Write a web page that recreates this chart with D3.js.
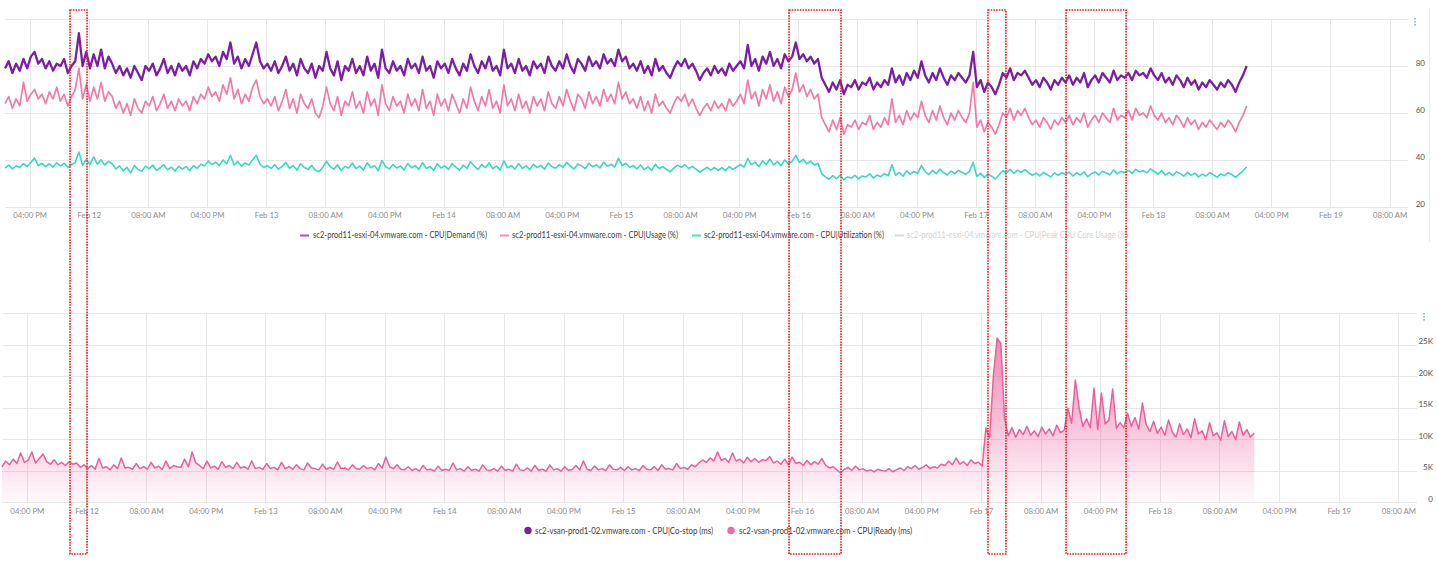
<!DOCTYPE html>
<html><head><meta charset="utf-8">
<script src="https://cdn.jsdelivr.net/npm/d3@7"></script>
<style>
body{margin:0;background:#fff;}
svg{display:block;font-family:Lato,"Open Sans",sans-serif;}
</style></head><body>
<svg id="chart" width="1437" height="563"></svg>
<script>
// ---------------- DATA ----------------
const seriesStart = new Date(2023, 1, 11, 12, 40); // Feb 11, 12:40
const stepMinutes = 30;
const domainStart = new Date(2023, 1, 11, 12, 40);
const domainEnd = new Date(2023, 1, 19, 10, 30);

// CPU|Demand (%)
const cpuDemand = [
79,82,77,81,78,83,79,84,86,81,83,79,82,78,81,80,83,77,80,82,94,80,86,79,
85,80,87,79,84,81,77,80,76,79,75,80,77,74,80,78,81,76,79,83,77,80,76,81,
78,80,76,82,79,83,81,85,82,84,80,86,83,90,81,84,79,83,80,85,90,82,79,81,
78,82,77,80,84,78,81,76,83,79,77,81,75,80,78,86,79,76,82,74,80,78,83,77,
80,76,84,78,81,75,87,79,77,82,78,80,76,83,79,81,77,84,78,80,75,82,79,81,
77,83,79,76,81,78,85,80,77,82,79,84,78,80,76,87,79,81,77,83,78,80,76,82,
79,81,77,84,80,78,82,79,85,80,77,83,81,78,84,80,82,79,85,81,83,80,87,82,
84,79,81,78,82,77,80,76,83,78,80,77,75,79,82,80,83,79,81,78,74,77,79,76,
80,77,79,76,81,78,80,82,79,89,80,83,78,84,81,86,80,83,79,85,82,84,90,83,
85,82,84,81,83,75,72,69,73,70,74,68,72,71,74,70,73,72,75,70,73,71,74,72,
79,73,76,72,77,74,78,75,82,76,73,77,74,79,75,72,76,74,77,75,73,76,86,71,
74,69,73,71,68,72,77,75,79,74,77,76,78,75,72,74,71,75,73,70,74,72,75,73,
76,72,75,73,77,71,74,76,73,77,75,73,78,74,76,75,77,74,78,76,77,75,79,76,
74,77,73,75,72,76,74,71,75,72,74,70,73,71,74,72,70,73,71,74,72,69,73,76,
80];

// CPU|Usage (%)
const cpuUsage = [
64,67,62,66,63,73,65,68,70,66,68,64,69,66,71,65,68,63,67,70,79,66,72,65,
71,66,73,65,69,67,62,65,60,64,59,66,62,60,65,63,67,61,64,68,62,65,61,66,
63,65,61,67,64,68,66,71,67,69,65,72,68,75,66,70,64,68,65,71,74,67,64,66,
63,67,61,65,70,62,66,60,68,64,62,66,60,58,63,71,64,61,67,59,65,63,69,62,
65,60,69,63,66,59,72,64,61,67,63,65,60,68,63,66,61,70,62,65,59,68,63,66,
61,68,64,60,66,62,71,65,61,67,63,70,62,65,60,72,63,66,61,68,62,65,60,67,
63,66,61,69,64,62,67,63,70,65,61,68,66,62,69,64,67,63,70,65,68,64,73,66,
69,64,66,62,67,61,65,60,68,63,65,62,60,64,67,65,68,63,66,62,59,62,64,61,
65,62,64,61,66,63,65,68,64,74,66,69,63,70,66,72,65,69,64,71,67,70,77,69,
72,67,70,66,68,58,55,52,57,53,58,51,55,54,57,53,56,55,59,53,56,54,58,55,
66,56,59,55,61,57,60,58,65,59,56,61,57,63,58,55,60,57,61,58,56,60,73,54,
57,52,56,54,51,55,60,58,62,57,61,59,62,58,55,57,54,58,56,53,57,55,58,56,
59,55,58,56,60,54,57,59,56,60,58,56,62,57,59,58,61,57,62,59,60,58,63,59,
57,60,56,58,55,59,57,54,58,55,57,53,56,54,57,55,53,56,54,57,55,52,56,59,
63];

// CPU|Utilization (%)
const cpuUtilization = [
36.5,37.8,36.2,37.5,36.8,38.5,37.2,39.0,40.8,37.6,38.6,37.2,38.4,37.0,38.8,37.5,38.6,36.9,38.0,38.9,43.4,37.8,40.2,38.1,
41.3,38.2,40.1,37.9,39.4,38.4,36.2,37.5,35.4,36.9,34.5,37.6,36.0,35.2,37.4,36.3,37.8,35.6,36.7,38.0,35.8,37.0,35.3,37.3,
36.1,37.2,35.5,37.6,36.4,38.2,37.5,39.6,38.0,39.1,37.6,40.0,38.4,42.0,37.9,39.3,37.4,38.8,37.8,40.1,42.0,38.3,36.8,37.6,
36.4,38.0,36.1,37.3,39.0,36.5,37.6,35.7,38.4,36.8,36.0,37.7,35.6,35.0,36.9,39.5,37.2,36.1,38.0,35.5,37.3,36.6,38.7,36.3,
37.4,35.8,38.8,36.7,37.6,35.5,39.8,37.1,36.2,38.1,36.6,37.4,35.8,38.5,36.7,37.6,36.0,38.9,36.4,37.3,35.6,38.4,36.6,37.5,
36.0,38.5,37.0,35.7,37.8,36.4,39.3,37.4,36.0,38.1,36.7,38.8,36.3,37.4,35.8,39.6,36.7,37.6,36.1,38.5,36.4,37.5,35.9,38.1,
36.8,37.7,36.1,38.7,37.2,36.5,38.0,36.9,39.0,37.4,36.2,38.3,37.5,36.3,38.6,37.1,37.9,36.6,39.1,37.3,38.2,37.0,40.8,37.6,
38.6,36.9,37.6,36.2,37.9,35.9,37.1,35.6,38.2,36.4,37.2,36.0,35.0,36.6,37.8,36.9,38.0,36.4,37.3,36.1,34.8,35.9,36.9,35.7,
36.8,35.6,36.7,35.5,37.2,36.0,37.0,38.1,37.0,40.6,38.0,39.1,37.2,39.6,38.1,40.4,37.9,39.3,37.6,40.0,38.4,39.4,42.0,39.0,
40.3,38.4,39.5,37.9,38.6,34.2,32.8,31.8,33.4,32.0,33.6,31.5,32.8,32.3,33.5,32.0,33.2,32.8,34.1,32.4,33.6,32.9,34.2,33.3,
38.0,33.5,34.7,33.1,35.4,34.0,35.1,34.4,37.6,35.1,33.8,35.6,34.2,36.1,34.6,33.6,35.3,34.2,35.6,34.7,33.9,35.2,39.0,33.0,
34.3,32.6,34.0,33.1,32.0,33.6,35.4,34.5,36.0,34.3,35.7,34.8,35.9,34.6,33.5,34.4,33.2,34.7,33.8,32.8,34.5,33.5,34.6,33.9,
34.8,33.2,34.6,33.6,35.0,32.9,34.2,34.9,33.6,35.2,34.5,33.7,35.8,34.2,35.1,34.7,35.6,34.3,36.0,35.0,35.4,34.6,36.2,35.1,
34.0,35.5,33.6,34.7,33.3,35.0,34.2,33.1,34.8,33.5,34.4,32.8,34.0,33.2,34.6,33.7,32.7,34.1,33.3,34.6,33.8,32.6,34.0,35.4,
37.0];

// CPU|Ready (ms)
const cpuReady = [
5600,6500,5900,6800,6100,7780,6300,6600,7930,6200,6900,7620,6400,6000,6700,5900,6300,5800,6400,6000,6200,5500,5900,5300,
5800,5200,6900,5400,5600,5100,5900,5300,7000,5400,5500,5200,6100,5300,5600,5200,6300,5400,5700,5200,6500,5300,5800,5600,
5500,6800,5600,7930,6200,5800,5300,6500,5400,5700,5200,6400,5500,5800,5300,6300,5400,5600,5200,6500,5300,5500,5200,6100,
5300,5500,5100,6300,5300,5600,5200,5900,5300,5100,6200,5400,5300,5100,6000,5200,5500,5200,6350,5300,5400,5100,5900,5300,
5200,5800,5300,5500,5100,6100,5400,7140,5600,5300,5900,5200,5100,5600,5000,5300,4900,5800,5100,5200,4900,5700,5000,5200,
5000,6190,5100,5300,4900,5600,5000,5200,4900,5900,5100,5000,5300,4900,5700,5000,5200,4900,6000,5100,5000,5400,4900,5800,
5000,5200,4900,5900,5100,5300,4900,5600,5000,5200,5800,5100,6500,5200,5000,5700,5100,5300,5000,5900,5200,5100,5500,5000,
5600,5100,5300,5000,5800,5200,5100,5600,5000,5900,5200,5300,5100,6100,5300,5500,5200,5900,5600,6200,6670,6300,7000,6500,
7930,6600,6900,6300,7780,6500,6800,6200,7100,6400,6900,6300,6700,6600,7200,6200,6500,6000,6800,5900,7140,6100,6300,5800,
6600,5900,6400,6000,6900,5800,5400,5600,5100,4600,5200,5500,5000,5700,5100,5300,4900,5100,4800,5200,5000,4900,5300,4800,
5100,5400,5000,5600,5300,5800,5200,5500,5900,5300,5600,5400,6000,5800,6500,5900,6980,6000,6400,5800,6700,6100,6300,5700,
11740,10200,20000,26000,25200,13300,10500,11800,10300,11500,10700,12000,10600,11300,10400,11900,10800,11600,10500,12200,11000,11400,14900,12500,
19360,15000,12000,13200,11800,18100,11500,17300,12400,13000,17930,11700,12600,11800,14100,12000,13400,11600,15710,12300,11200,12800,10900,11900,
10600,13000,11100,10300,12400,10700,11600,10200,13200,10800,11300,9900,12600,10500,11000,9800,12900,10400,11200,9900,12700,10600,11500,10300,
10950];

const topYTicks = [20, 40, 60, 80];
const topYMax = 100;
const bottomYTicks = [0, 5000, 10000, 15000, 20000, 25000];
const bottomYMax = 30000;

const topLegendLabels = [
  "sc2-prod11-esxi-04.vmware.com - CPU|Demand (%)",
  "sc2-prod11-esxi-04.vmware.com - CPU|Usage (%)",
  "sc2-prod11-esxi-04.vmware.com - CPU|Utilization (%)",
  "sc2-prod11-esxi-04.vmware.com - CPU|Peak CPU Core Usage (%)"
];
const bottomLegendLabels = [
  "sc2-vsan-prod1-02.vmware.com - CPU|Co-stop (ms)",
  "sc2-vsan-prod1-02.vmware.com - CPU|Ready (ms)"
];
// highlighted time windows (red dotted boxes)
const highlightStarts = [new Date(2023,1,11,21,28), new Date(2023,1,15,22,45), new Date(2023,1,17,1,40), new Date(2023,1,17,12,14)];
const highlightEnds   = [new Date(2023,1,11,23,46), new Date(2023,1,16,5,47),  new Date(2023,1,17,4,6),  new Date(2023,1,17,20,21)];

// ---------------- STYLE / LAYOUT ----------------
const C = {
  demand: "#7b1fa2", usage: "#f27aa9", util: "#38d8c2", peak: "#d8d8d8",
  costop: "#7b1fa2", ready: "#e9609e", grid: "#e7e7e7",
  xText: "#8e8e8e", yText: "#555", legend: "#3e3e3e"
};
const svg = d3.select("#chart");
const timeAt = i => new Date(seriesStart.getTime() + i * stepMinutes * 60000);

const fmtTick = d => (d.getHours() === 0 ? d3.timeFormat("%b %d")(d) : d3.timeFormat("%I:%M %p")(d));
const tickTimes = d3.timeHour.every(8).range(domainStart, domainEnd);

function panel(cfg) {
  const g = svg.append("g");
  const x = d3.scaleTime().domain([domainStart, domainEnd]).range([cfg.x0, cfg.x1]);
  const y = d3.scaleLinear().domain([cfg.yMin, cfg.yMax]).range([cfg.yBottom, cfg.yTop]);
  g.append("g").selectAll("line").data(cfg.yTicks.concat([cfg.yMax])).join("line")
    .attr("x1", cfg.x0).attr("x2", cfg.x1)
    .attr("y1", d => Math.round(y(d)) + 0.5).attr("y2", d => Math.round(y(d)) + 0.5)
    .attr("stroke", C.grid).attr("stroke-width", 1);
  g.append("g").selectAll("line").data(tickTimes).join("line")
    .attr("x1", d => Math.round(x(d)) + 0.5).attr("x2", d => Math.round(x(d)) + 0.5)
    .attr("y1", cfg.yTop).attr("y2", cfg.yBottom)
    .attr("stroke", C.grid).attr("stroke-width", 1);
  const xa = g.append("g").attr("transform", `translate(0,${cfg.xLabelY})`)
    .call(d3.axisBottom(x).tickValues(tickTimes).tickFormat(fmtTick).tickSize(0).tickPadding(0));
  xa.select(".domain").remove();
  xa.selectAll("text").attr("fill", C.xText).attr("font-size", 7.8).attr("font-family", "Lato, sans-serif").attr("dy", "0.32em");
  const ya = g.append("g").attr("transform", `translate(${cfg.yLabelX},0)`)
    .call(d3.axisLeft(y).tickValues(cfg.yTicks).tickFormat(cfg.yFmt).tickSize(0).tickPadding(0));
  ya.select(".domain").remove();
  ya.selectAll("text").attr("fill", C.yText).attr("font-size", 8).attr("font-family", "Lato, sans-serif")
    .attr("dy", "0").attr("y", -1);
  return {g, x, y};
}

// ---------- TOP PANEL ----------
const topP = panel({x0: 5, x1: 1408, yTop: 19, yBottom: 207, yMin: 20, yMax: topYMax,
  yTicks: topYTicks, yFmt: d => d, xLabelY: 215, yLabelX: 1425});
const topSeries = [
  {vals: cpuUtilization, color: C.util, w: 1.6},
  {vals: cpuUsage, color: C.usage, w: 1.7},
  {vals: cpuDemand, color: C.demand, w: 2.3}
];
topSeries.forEach(s => {
  const line = d3.line().x((d, i) => topP.x(timeAt(i))).y(d => topP.y(d));
  topP.g.append("path").datum(s.vals).attr("d", line)
    .attr("fill", "none").attr("stroke", s.color).attr("stroke-width", s.w).attr("stroke-linejoin", "round");
});

// ---------- BOTTOM PANEL ----------
const botP = panel({x0: 2, x1: 1417, yTop: 313, yBottom: 502, yMin: 0, yMax: bottomYMax,
  yTicks: bottomYTicks, yFmt: d => (d === 0 ? "0" : d / 1000 + "K"), xLabelY: 511, yLabelX: 1433});
const defs = svg.append("defs");
const grad = defs.append("linearGradient").attr("id", "readyFill")
  .attr("gradientUnits", "userSpaceOnUse").attr("x1", 0).attr("x2", 0)
  .attr("y1", botP.y(26000)).attr("y2", botP.y(0));
grad.append("stop").attr("offset", "0%").attr("stop-color", "#ec5f9c").attr("stop-opacity", 0.75);
grad.append("stop").attr("offset", "55%").attr("stop-color", "#ec5f9c").attr("stop-opacity", 0.36);
grad.append("stop").attr("offset", "100%").attr("stop-color", "#ec5f9c").attr("stop-opacity", 0.03);
const area = d3.area().x((d, i) => botP.x(timeAt(i))).y0(botP.y(0)).y1(d => botP.y(d));
botP.g.append("path").datum(cpuReady).attr("d", area).attr("fill", "url(#readyFill)");
const rline = d3.line().x((d, i) => botP.x(timeAt(i))).y(d => botP.y(d));
botP.g.append("path").datum(cpuReady).attr("d", rline).attr("fill", "none")
  .attr("stroke", C.ready).attr("stroke-width", 1.5).attr("stroke-linejoin", "round");

// ---------- LEGENDS ----------
const topLegendLayout = [
  {sx: 300, tx: 313, w: 174, color: C.demand, text: C.legend, op: 0.75},
  {sx: 500, tx: 512, w: 166, color: C.usage, text: C.legend, op: 0.85},
  {sx: 692, tx: 704, w: 180, color: C.util, text: C.legend, op: 0.85},
  {sx: 895, tx: 907, w: 221, color: C.peak, text: "#d4d4d4", op: 1}
];
const tl = svg.append("g");
topLegendLabels.forEach((lab, i) => {
  const L = topLegendLayout[i];
  tl.append("line").attr("x1", L.sx).attr("x2", L.sx + 9).attr("y1", 235.5).attr("y2", 235.5)
    .attr("stroke", L.color).attr("stroke-width", 2).attr("stroke-opacity", L.op);
  tl.append("text").attr("x", L.tx).attr("y", 235).attr("dy", "0.35em")
    .attr("font-size", 9).attr("fill", L.text)
    .attr("textLength", L.w).attr("lengthAdjust", "spacingAndGlyphs").text(lab);
});
const bottomLegendLayout = [
  {cx: 528, tx: 535, w: 178, color: C.costop},
  {cx: 731, tx: 739, w: 173, color: "#ef6ba6"}
];
const bl = svg.append("g");
bottomLegendLabels.forEach((lab, i) => {
  const L = bottomLegendLayout[i];
  bl.append("circle").attr("cx", L.cx).attr("cy", 530.5).attr("r", 3.7).attr("fill", L.color);
  bl.append("text").attr("x", L.tx).attr("y", 530.5).attr("dy", "0.35em")
    .attr("font-size", 9).attr("fill", C.legend)
    .attr("textLength", L.w).attr("lengthAdjust", "spacingAndGlyphs").text(lab);
});

// ---------- decorations ----------
[[1415, 18], [1424, 313]].forEach(([cx, cy]) => {
  [0, 3, 6].forEach(o => svg.append("rect").attr("x", cx - 0.8).attr("y", cy + o).attr("width", 1.6).attr("height", 1.6).attr("fill", "#7fb2e0"));
});
svg.append("line").attr("x1", 1429.5).attr("x2", 1429.5).attr("y1", 8).attr("y2", 242).attr("stroke", "#ececec");

highlightStarts.forEach((s, i) => {
  const x0 = topP.x(s), x1 = topP.x(highlightEnds[i]);
  svg.append("rect").attr("x", x0).attr("y", 10).attr("width", x1 - x0).attr("height", 544)
    .attr("fill", "none").attr("stroke", "#ee1c1c").attr("stroke-width", 1.6)
    .attr("stroke-dasharray", "1.6,1.1");
});
</script>
</body></html>
